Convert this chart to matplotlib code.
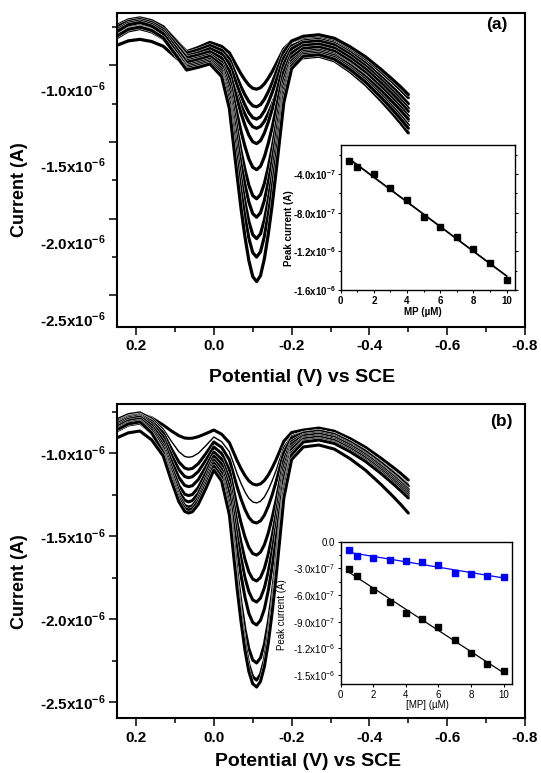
import numpy as np
import matplotlib
matplotlib.use("Agg")
import matplotlib.pyplot as plt
import matplotlib.patheffects as pe
from matplotlib.transforms import ScaledTranslation

plt.rcParams['font.family'] = ['Liberation Sans', 'DejaVu Sans']
plt.rcParams['mathtext.fontset'] = 'custom'
plt.rcParams['mathtext.rm'] = 'Liberation Sans:bold'
plt.rcParams['mathtext.bf'] = 'Liberation Sans:bold'
plt.rcParams['mathtext.sf'] = 'Liberation Sans'

# ---- panel (a): DPV curves, current in uA vs potential (V vs SCE)
potential_a = [0.25, 0.22, 0.19, 0.16, 0.13, 0.10, 0.07, 0.04, 0.01, -0.02, -0.04,
               -0.06, -0.07, -0.08, -0.09, -0.10, -0.11, -0.12, -0.13, -0.14, -0.15,
               -0.16, -0.18, -0.20, -0.23, -0.27, -0.31, -0.35, -0.39, -0.43, -0.46,
               -0.48, -0.50]

ia_05 = [-0.76, -0.715, -0.70, -0.717, -0.753, -0.830, -0.91, -0.883, -0.85, -0.876, -0.918,
         -1.011, -1.056, -1.095, -1.128, -1.149, -1.155, -1.145, -1.120, -1.083, -1.041,
         -0.992, -0.892, -0.842, -0.82, -0.81, -0.834, -0.89, -0.958, -1.042, -1.11, -1.158, -1.21]
ia_1 = [-0.74, -0.703, -0.69, -0.708, -0.748, -0.833, -0.92, -0.898, -0.87, -0.901, -0.957,
        -1.081, -1.140, -1.192, -1.235, -1.263, -1.27, -1.256, -1.221, -1.172, -1.114,
        -1.047, -0.911, -0.841, -0.81, -0.80, -0.823, -0.878, -0.944, -1.026, -1.093, -1.139, -1.19]
ia_2 = [-0.78, -0.735, -0.72, -0.738, -0.775, -0.856, -0.94, -0.918, -0.89, -0.924, -0.989,
        -1.132, -1.200, -1.259, -1.308, -1.341, -1.35, -1.335, -1.297, -1.242, -1.177,
        -1.103, -0.949, -0.873, -0.84, -0.83, -0.855, -0.914, -0.985, -1.074, -1.145, -1.195, -1.25]
ia_3 = [-0.87, -0.84, -0.83, -0.844, -0.875, -0.942, -1.01, -0.988, -0.96, -0.992, -1.058,
        -1.195, -1.261, -1.319, -1.367, -1.400, -1.41, -1.398, -1.364, -1.314, -1.254,
        -1.186, -1.045, -0.975, -0.95, -0.94, -0.97, -1.04, -1.125, -1.23, -1.315, -1.375, -1.44]
ia_4 = [-0.75, -0.713, -0.70, -0.72, -0.763, -0.855, -0.95, -0.932, -0.91, -0.951, -1.037,
        -1.223, -1.312, -1.390, -1.455, -1.498, -1.51, -1.491, -1.441, -1.370, -1.286,
        -1.189, -0.991, -0.891, -0.85, -0.84, -0.866, -0.928, -1.003, -1.095, -1.17, -1.223, -1.28]
ia_5 = [-0.79, -0.745, -0.73, -0.749, -0.79, -0.879, -0.97, -0.952, -0.93, -0.979, -1.087,
        -1.320, -1.431, -1.528, -1.610, -1.664, -1.68, -1.658, -1.596, -1.508, -1.405,
        -1.286, -1.041, -0.919, -0.87, -0.86, -0.886, -0.948, -1.023, -1.115, -1.19, -1.243, -1.30]
ia_6 = [-0.77, -0.725, -0.71, -0.732, -0.778, -0.877, -0.98, -0.962, -0.94, -0.997, -1.133,
        -1.421, -1.560, -1.680, -1.781, -1.849, -1.87, -1.843, -1.770, -1.663, -1.537,
        -1.392, -1.093, -0.946, -0.89, -0.88, -0.907, -0.97, -1.047, -1.141, -1.218, -1.272, -1.33]
ia_7 = [-0.80, -0.763, -0.75, -0.77, -0.813, -0.905, -1.00, -0.982, -0.96, -1.022, -1.173,
        -1.492, -1.646, -1.779, -1.891, -1.967, -1.99, -1.961, -1.880, -1.762, -1.623,
        -1.463, -1.133, -0.971, -0.91, -0.90, -0.928, -0.992, -1.07, -1.167, -1.245, -1.30, -1.36]
ia_8 = [-0.78, -0.735, -0.72, -0.743, -0.793, -0.90, -1.01, -0.992, -0.97, -1.039, -1.209,
        -1.569, -1.742, -1.892, -2.018, -2.104, -2.13, -2.098, -2.007, -1.875, -1.719,
        -1.540, -1.169, -0.988, -0.92, -0.91, -0.936, -0.998, -1.073, -1.165, -1.24, -1.293, -1.35]
ia_9 = [-0.82, -0.775, -0.76, -0.781, -0.825, -0.921, -1.02, -1.002, -0.98, -1.054, -1.241,
        -1.635, -1.825, -1.989, -2.127, -2.221, -2.25, -2.215, -2.116, -1.972, -1.802,
        -1.606, -1.201, -1.003, -0.93, -0.92, -0.948, -1.014, -1.094, -1.193, -1.273, -1.329, -1.39]
ia_10 = [-0.81, -0.765, -0.75, -0.772, -0.82, -0.924, -1.03, -1.012, -0.99, -1.072, -1.281,
         -1.721, -1.934, -2.117, -2.272, -2.377, -2.41, -2.371, -2.261, -2.100, -1.911,
         -1.692, -1.241, -1.021, -0.94, -0.93, -0.959, -1.026, -1.108, -1.208, -1.29, -1.348, -1.41]

# ---- panel (b)
potential_b = [0.25, 0.22, 0.19, 0.16, 0.13, 0.11, 0.09, 0.075, 0.065, 0.055, 0.04, 0.02,
               0.00, -0.02, -0.04, -0.06, -0.07, -0.08, -0.09, -0.10, -0.11, -0.12, -0.13,
               -0.14, -0.15, -0.16, -0.18, -0.20, -0.23, -0.27, -0.31, -0.35, -0.39, -0.43,
               -0.46, -0.48, -0.50]

ib_1 = [-0.805, -0.774, -0.763, -0.786, -0.830, -0.864, -0.894, -0.908, -0.910, -0.909, -0.900,
        -0.881, -0.860, -0.885, -0.936, -1.045, -1.093, -1.134, -1.166, -1.185, -1.191, -1.184,
        -1.164, -1.131, -1.088, -1.039, -0.928, -0.875, -0.860, -0.848, -0.867, -0.911, -0.964,
        -1.030, -1.083, -1.120, -1.161]
ib_2 = [-0.793, -0.762, -0.751, -0.787, -0.854, -0.925, -0.990, -1.019, -1.024, -1.020, -1.000,
        -0.953, -0.902, -0.930, -0.991, -1.124, -1.182, -1.232, -1.271, -1.293, -1.299, -1.289,
        -1.263, -1.220, -1.166, -1.104, -0.963, -0.894, -0.872, -0.860, -0.880, -0.925, -0.980,
        -1.049, -1.104, -1.143, -1.185]
ib_3 = [-0.818, -0.781, -0.769, -0.807, -0.878, -0.970, -1.052, -1.089, -1.096, -1.091, -1.063,
        -1.001, -0.932, -0.964, -1.039, -1.204, -1.276, -1.338, -1.386, -1.413, -1.420, -1.407,
        -1.373, -1.319, -1.251, -1.172, -0.995, -0.907, -0.878, -0.866, -0.886, -0.932, -0.988,
        -1.058, -1.114, -1.154, -1.197]
ib_4 = [-0.824, -0.787, -0.775, -0.819, -0.902, -1.005, -1.098, -1.140, -1.147, -1.141, -1.110,
        -1.040, -0.962, -1.001, -1.101, -1.323, -1.420, -1.504, -1.567, -1.604, -1.613, -1.596,
        -1.551, -1.480, -1.388, -1.283, -1.045, -0.929, -0.890, -0.878, -0.898, -0.945, -1.003,
        -1.073, -1.131, -1.171, -1.215]
ib_5 = [-0.836, -0.795, -0.781, -0.832, -0.926, -1.042, -1.146, -1.193, -1.201, -1.195, -1.159,
        -1.080, -0.992, -1.036, -1.156, -1.422, -1.538, -1.638, -1.714, -1.758, -1.769, -1.748,
        -1.693, -1.607, -1.497, -1.370, -1.084, -0.943, -0.896, -0.884, -0.904, -0.951, -1.009,
        -1.079, -1.137, -1.177, -1.221]
ib_6 = [-0.842, -0.805, -0.793, -0.848, -0.950, -1.078, -1.194, -1.246, -1.255, -1.248, -1.207,
        -1.116, -1.016, -1.065, -1.201, -1.501, -1.633, -1.748, -1.833, -1.883, -1.896, -1.872,
        -1.810, -1.714, -1.588, -1.444, -1.121, -0.962, -0.908, -0.896, -0.916, -0.963, -1.021,
        -1.091, -1.149, -1.189, -1.233]
ib_7 = [-0.854, -0.817, -0.805, -0.862, -0.968, -1.105, -1.228, -1.283, -1.293, -1.285, -1.242,
        -1.146, -1.040, -1.094, -1.247, -1.588, -1.737, -1.866, -1.964, -2.019, -2.034, -2.006,
        -1.938, -1.827, -1.685, -1.522, -1.155, -0.976, -0.914, -0.902, -0.923, -0.971, -1.029,
        -1.101, -1.159, -1.200, -1.245]
ib_8 = [-0.866, -0.830, -0.818, -0.877, -0.986, -1.128, -1.256, -1.314, -1.324, -1.316, -1.271,
        -1.170, -1.058, -1.120, -1.307, -1.721, -1.902, -2.058, -2.177, -2.245, -2.263, -2.232,
        -2.150, -2.017, -1.847, -1.652, -1.211, -0.997, -0.926, -0.914, -0.935, -0.983, -1.041,
        -1.113, -1.171, -1.212, -1.257]
ib_9 = [-0.860, -0.823, -0.811, -0.876, -0.998, -1.142, -1.273, -1.332, -1.342, -1.334, -1.289,
        -1.188, -1.077, -1.143, -1.343, -1.785, -1.979, -2.146, -2.273, -2.346, -2.366, -2.331,
        -2.243, -2.101, -1.919, -1.710, -1.238, -1.009, -0.932, -0.920, -0.941, -0.990, -1.049,
        -1.122, -1.182, -1.224, -1.269]
ib_10 = [-0.908, -0.877, -0.866, -0.919, -1.016, -1.160, -1.291, -1.350, -1.360, -1.352, -1.308,
         -1.210, -1.101, -1.167, -1.371, -1.818, -2.015, -2.185, -2.314, -2.388, -2.408, -2.374,
         -2.285, -2.142, -1.958, -1.746, -1.270, -1.038, -0.962, -0.950, -0.975, -1.032, -1.102,
         -1.188, -1.258, -1.307, -1.360]

# ---- insets: peak current (A) vs [MP] (uM)
mp_conc = [0.5, 1, 2, 3, 4, 5, 6, 7, 8, 9, 10]
peak_a = [-2.69e-7, -3.31e-7, -4.00e-7, -5.48e-7, -6.66e-7, -8.41e-7, -9.45e-7,
          -1.052e-6, -1.179e-6, -1.317e-6, -1.497e-6]
peak_b_blue = [-0.93e-7, -1.60e-7, -1.83e-7, -2.05e-7, -2.16e-7, -2.27e-7, -2.61e-7,
               -3.47e-7, -3.61e-7, -3.84e-7, -3.95e-7]
peak_b_black = [-3.06e-7, -3.88e-7, -5.48e-7, -6.75e-7, -7.98e-7, -8.65e-7, -9.54e-7,
                -1.107e-6, -1.252e-6, -1.379e-6, -1.450e-6]

# ---- ticks
xticks_main = [0.2, 0.0, -0.2, -0.4, -0.6, -0.8]
xlabels_main = ['0.2', '0.0', '-0.2', '-0.4', '-0.6', '-0.8']
yticks_main = [-1.0e-6, -1.5e-6, -2.0e-6, -2.5e-6]
ylabels_main = [r'-1.0x10$^{\mathbf{-6}}$', r'-1.5x10$^{\mathbf{-6}}$',
                r'-2.0x10$^{\mathbf{-6}}$', r'-2.5x10$^{\mathbf{-6}}$']
yticks_ins_a = [-4.0e-7, -8.0e-7, -1.2e-6, -1.6e-6]
ylabels_ins_a = [r'-4.0x10$^{\mathbf{-7}}$', r'-8.0x10$^{\mathbf{-7}}$',
                 r'-1.2x10$^{\mathbf{-6}}$', r'-1.6x10$^{\mathbf{-6}}$']
yticks_ins_b = [0.0, -3.0e-7, -6.0e-7, -9.0e-7, -1.2e-6, -1.5e-6]
ylabels_ins_b = ['0.0', r'-3.0x10$^{\mathsf{-7}}$', r'-6.0x10$^{\mathsf{-7}}$',
                 r'-9.0x10$^{\mathsf{-7}}$', r'-1.2x10$^{\mathsf{-6}}$', r'-1.5x10$^{\mathsf{-6}}$']
xticks_ins = [0, 2, 4, 6, 8, 10]

curves_a = [ia_05, ia_1, ia_2, ia_3, ia_4, ia_5, ia_6, ia_7, ia_8, ia_9, ia_10]
curves_b = [ib_1, ib_2, ib_3, ib_4, ib_5, ib_6, ib_7, ib_8, ib_9, ib_10]
widths_b = [2.2, 1.0, 2.2, 2.2, 2.2, 2.2, 2.2, 2.2, 2.2, 2.2]

fig = plt.figure(figsize=(5.41, 7.73), dpi=100)


def style_main(ax, ylim):
    ax.set_xlim(0.25, -0.8)
    ax.set_ylim(*ylim)
    ax.set_xticks(xticks_main, labels=xlabels_main)
    ax.set_xticks([0.1, -0.1, -0.3, -0.5, -0.7], minor=True)
    ax.set_yticks(yticks_main, labels=ylabels_main)
    ax.set_yticks([-0.75e-6, -1.25e-6, -1.75e-6, -2.25e-6], minor=True)
    ax.tick_params(which='both', direction='out', width=1.1, top=False, right=False)
    ax.tick_params(which='major', length=6)
    ax.tick_params(which='minor', length=3.5)
    ax.tick_params(axis='x', labelsize=11, pad=3)
    ax.tick_params(axis='y', labelsize=11, pad=2)
    for lab in ax.get_xticklabels() + ax.get_yticklabels():
        lab.set_fontweight('bold')
    for s in ax.spines.values():
        s.set_linewidth(1.5)
    ax.set_xlabel('Potential (V) vs SCE', fontsize=14, fontweight='bold')
    ax.set_ylabel('Current (A)', fontsize=13, fontweight='bold')


def style_inset(ax, ylim, yt, yl, weight, xlab):
    ax.set_xlim(0, 10.5)
    ax.set_ylim(*ylim)
    ax.set_xticks(xticks_ins)
    ax.set_yticks(yt, labels=yl)
    ax.tick_params(which='both', direction='out', width=0.8, length=2.5,
                   labelsize=7, pad=1.5)
    for lab in ax.get_xticklabels() + ax.get_yticklabels():
        lab.set_fontweight(weight)
    for s in ax.spines.values():
        s.set_linewidth(1.0)
    ax.set_xlabel(xlab, fontsize=7, fontweight=weight)
    ax.set_ylabel('Peak current (A)', fontsize=7, fontweight=weight)


# panel (a)
ax_a = fig.add_axes([0.2155, 0.5774, 0.7549, 0.4062])
for c in curves_a:
    ax_a.plot(potential_a, np.array(c) * 1e-6, color='black', lw=2.3,
              solid_capstyle='round', solid_joinstyle='round',
              path_effects=[pe.withStroke(linewidth=2.8, foreground='white')])
style_main(ax_a, (-2.704e-6, -0.656e-6))
# tick labels of (a) sit a little below their ticks in the original
shift = ScaledTranslation(0, -0.23, fig.dpi_scale_trans)
for lab in ax_a.get_yticklabels():
    lab.set_transform(lab.get_transform() + shift)
ax_a.xaxis.set_label_coords(0.455, -0.135)
ax_a.yaxis.set_label_coords(-0.217, 0.435)
ax_a.text(0.918, 0.9677, '(a)', transform=fig.transFigure, fontsize=12.5,
          fontweight='bold', ha='center', va='center')

ins_a = fig.add_axes([0.6298, 0.6248, 0.322, 0.1876])
fit_a = np.polyfit(mp_conc, peak_a, 1)
ins_a.plot([mp_conc[0], mp_conc[-1]], np.polyval(fit_a, [mp_conc[0], mp_conc[-1]]),
           color='black', lw=1.3)
ins_a.plot(mp_conc, peak_a, 's', color='black', ms=4.5)
style_inset(ins_a, (-1.6e-6, -1.0e-7), yticks_ins_a, ylabels_ins_a, 'bold', 'MP (\u00b5M)')
ins_a.set_xticks([1, 3, 5, 7, 9], minor=True)
ins_a.set_yticks([-2e-7, -6e-7, -1.0e-6, -1.4e-6], minor=True)
ins_a.tick_params(which='minor', length=1.5)
ins_a.tick_params(axis='y', which='both', right=True, direction='out')
ins_a.xaxis.set_label_coords(0.474, -0.12)
ins_a.yaxis.set_label_coords(-0.27, 0.43)

# panel (b)
ax_b = fig.add_axes([0.2155, 0.0708, 0.7549, 0.4066])
for c, w in zip(curves_b, widths_b):
    ax_b.plot(potential_b, np.array(c) * 1e-6, color='black', lw=w,
              solid_capstyle='round', solid_joinstyle='round',
              path_effects=[pe.withStroke(linewidth=w + 0.5, foreground='white')])
style_main(ax_b, (-2.596e-6, -0.703e-6))
ax_b.xaxis.set_label_coords(0.47, -0.112)
ax_b.yaxis.set_label_coords(-0.217, 0.435)
ax_b.text(0.9274, 0.4545, '(b)', transform=fig.transFigure, fontsize=12.5,
          fontweight='bold', ha='center', va='center')

ins_b = fig.add_axes([0.6298, 0.1151, 0.316, 0.1841])
for ys, col in [(peak_b_blue, 'blue'), (peak_b_black, 'black')]:
    fit = np.polyfit(mp_conc, ys, 1)
    ins_b.plot([mp_conc[0], mp_conc[-1]], np.polyval(fit, [mp_conc[0], mp_conc[-1]]),
               color=col, lw=0.9)
    ins_b.plot(mp_conc, ys, 's', color=col, ms=4)
style_inset(ins_b, (-1.6e-6, 0.0), yticks_ins_b, ylabels_ins_b, 'normal', '[MP] (\u00b5M)')
ins_b.set_yticks([-1.5e-7, -4.5e-7, -7.5e-7, -1.05e-6, -1.35e-6], minor=True)
ins_b.tick_params(which='minor', length=1.5)
ins_b.xaxis.set_label_coords(0.508, -0.11)
ins_b.yaxis.set_label_coords(-0.314, 0.485)

fig.savefig('out.png', dpi=100)
